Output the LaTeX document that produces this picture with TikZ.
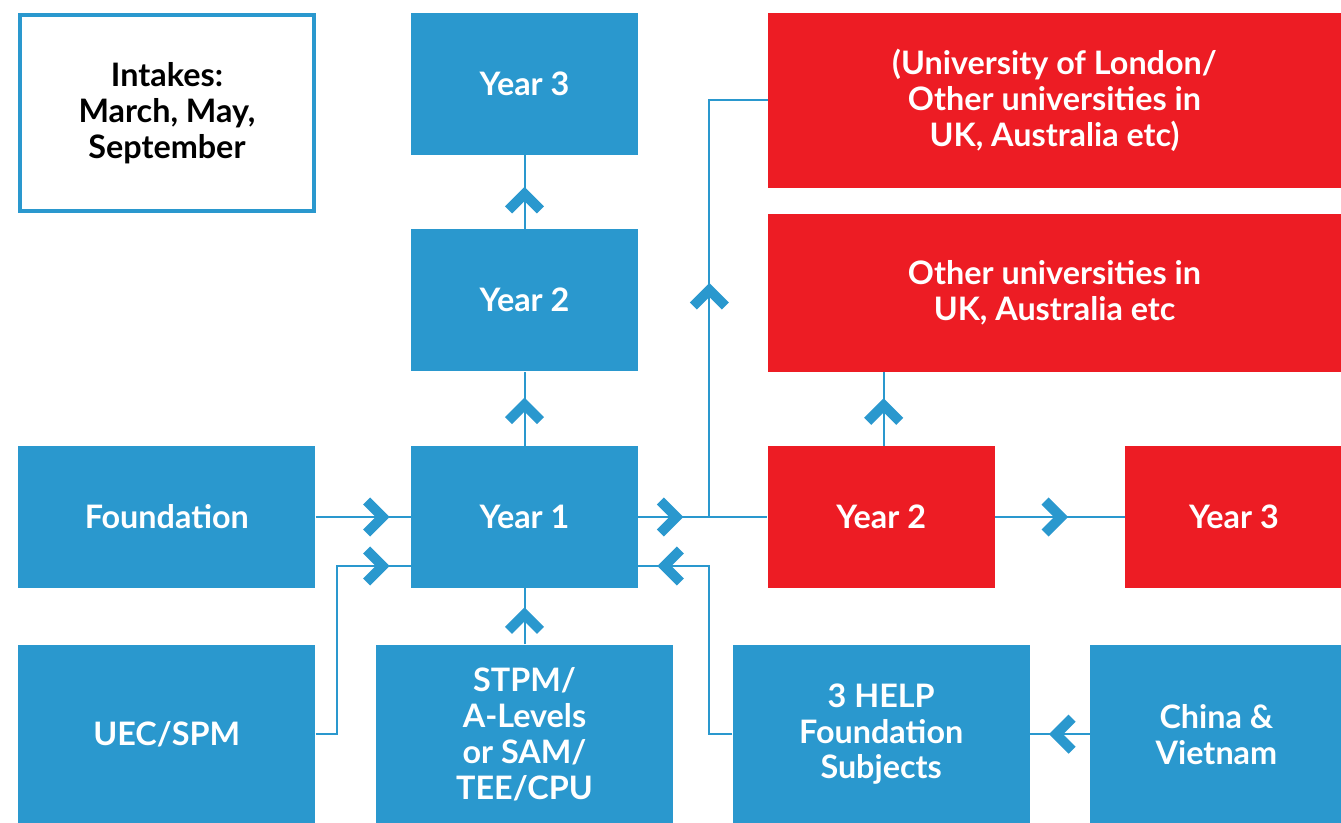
\documentclass[tikz,border=0pt]{standalone}
\usepackage{fontspec}
\setmainfont{Lato}
\usetikzlibrary{positioning, decorations.markings}
\definecolor{hblue}{HTML}{2A98CE}
\definecolor{hred}{HTML}{ED1C24}
\tikzstyle{stage} = [rectangle, minimum width=4.54cm, minimum height=2.84cm, inner sep=0pt, text=white, fill=hblue]
\tikzstyle{entry} = [stage, minimum width=5.94cm, minimum height=3.58cm]
\tikzstyle{abroad} = [stage, fill=hred]
\tikzstyle{note} = [rectangle, draw=hblue, line width=0.08cm, minimum width=5.88cm, minimum height=3.92cm, text=black]
\tikzstyle{link} = [hblue, line width=0.04cm]
\tikzset{chev at/.style={postaction={decorate, decoration={markings, mark=at position #1 with {\draw[hblue, line width=0.2cm, line cap=butt, line join=miter] (-0.46,-0.32) -- (-0.14,0) -- (-0.46,0.32);}}}}}

\begin{document}
\begin{tikzpicture}[align=center, font=\fontsize{18.4}{20.4}\selectfont\bfseries]
\useasboundingbox (0,0) rectangle (26.82,-16.46);
\node (intake) [note] at (3.34,-2.26) {Intakes:\\March, May,\\September};
\node (y1b) [stage] at (10.49,-10.34) {Year 1};
\node (y2b) [stage, above=1.48cm of y1b] {Year 2};
\node (y3b) [stage, above=1.48cm of y2b] {Year 3};
\node (found) [entry, minimum height=2.84cm, left=1.9cm of y1b] {Foundation};
\node (uec) [entry, below=1.12cm of found] {UEC/SPM};
\node (stpm) [entry, below=1.12cm of y1b] {STPM/\\A-Levels\\or SAM/\\TEE/CPU};
\node (y2r) [abroad, right=2.58cm of y1b] {Year 2};
\node (y3r) [abroad, minimum width=4.34cm, right=2.6cm of y2r] {Year 3};
\node (help) [entry, below=1.12cm of y2r] {3 HELP\\Foundation\\Subjects};
\node (china) [entry, minimum width=5.04cm, right=1.2cm of help] {China \&\\Vietnam};
\node (uol) [abroad, minimum width=11.46cm, minimum height=3.5cm] at (21.09,-2.01) {(University of London/\\Other universities in\\UK, Australia etc)};
\node (other) [abroad, minimum width=11.46cm, minimum height=3.16cm] at (21.09,-5.86) {Other universities in\\UK, Australia etc};
\coordinate (fork) at ([xshift=1.42cm]y1b.east);
% into year 1
\draw [link, chev at=-0.42cm] (found) -- (y1b);
\draw [link, chev at=-0.42cm] (uec.east) -- ++(0.42,0) |- ([yshift=-0.98cm]y1b.west);
\draw [link, chev at=-0.38cm] (stpm) -- (y1b);
\draw [link, chev at=-0.38cm] (help.west) -- ++(-0.46,0) |- ([yshift=-0.98cm]y1b.east);
\draw [link, chev at=-0.38cm] (china) -- (help);
% local years
\draw [link, chev at=-0.52cm] (y1b) -- (y2b);
\draw [link, chev at=-0.64cm] (y2b) -- (y3b);
% transfer
\draw [link, chev at=0.9cm] (y1b) -- (y2r);
\draw [link, chev at=4.68cm] (fork) |- (uol.west);
\draw [link, chev at=-0.52cm] ([xshift=0.05cm]y2r.north) -- ([xshift=0.05cm]y2r.north |- other.south);
\draw [link, chev at=1.46cm] (y2r) -- (y3r);
\end{tikzpicture}
\end{document}
